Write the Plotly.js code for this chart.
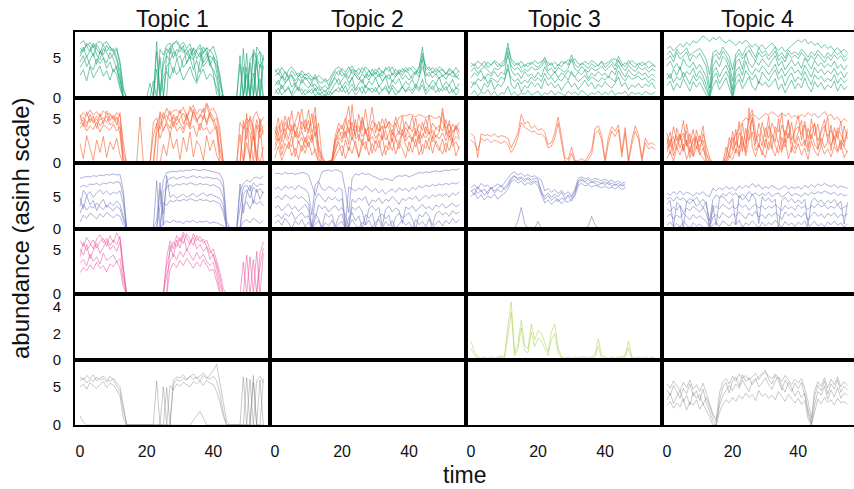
<!DOCTYPE html>
<html>
<head>
<meta charset="utf-8">
<script src="https://cdn.plot.ly/plotly-3.0.1.min.js"></script>
<style>html,body{margin:0;padding:0;background:#fff;}#chart{width:854px;height:489px;}</style>
</head>
<body>
<div id="chart"></div>
<script>
const time = [0,1,2,3,4,5,6,7,8,9,10,11,12,13,14,15,16,17,18,19,20,21,22,23,24,25,26,27,28,29,30,31,32,33,34,35,36,37,38,39,40,41,42,43,44,45,46,47,48,49,50,51,52,53,54,55];
const topics = ['Topic 1','Topic 2','Topic 3','Topic 4'];
const xTicks = [0,20,40];
const yTicks = [[0,5],[0,5],[0,5],[0,5],[0,2,4],[0,5]];

const green_t1 = [
 [5.2,6.1,6.5,5.8,6.9,6.2,5.5,6.8,7.1,6.4, 5.9,6.3,4.1,0.8,0,0,0,0,0,0, 0,0,0,5.8,0.6,4.9,6.2,5.5,6.8,7.0, 6.4,5.7,6.1,5.2,4.8,5.9,6.3,4.4,5.1,6.0, 5.4,3.2,0.5,0,0,0,0,0,4.2,0, 5.6,0.3,6.1,5.2,3.8,5.0],
 [4.5,5.3,3.9,4.8,5.6,4.2,5.9,5.1,4.4,5.7, 4.9,3.6,2.2,0,0,0,0,0,0,0, 0,0,2.1,0,0,4.1,5.3,4.6,5.8,5.1, 3.4,4.9,5.5,6.2,5.0,2.1,4.7,5.8,6.3,4.1, 5.2,4.5,2.8,0,0,0,0,0,0,3.9, 0,4.8,5.5,0,4.2,3.6],
 [6.3,5.8,6.9,6.4,5.2,6.7,6.0,5.4,6.6,5.9, 6.2,5.1,3.3,0,0,0,0,0,0,0, 0,0,0,0,6.1,5.4,6.6,6.9,6.1,5.3, 6.5,6.0,5.6,4.9,6.3,5.8,5.1,6.4,5.7,4.6, 3.1,0.4,0,0,0,0,0,0,0,0, 0,4.4,0,5.1,5.8,4.7],
 [3.8,4.6,5.2,4.1,3.5,4.9,4.3,5.0,3.7,4.5, 3.2,4.0,1.5,0,0,0,0,0,0,0, 0,0,0,3.6,0,0,3.9,4.5,3.1,4.8, 5.3,3.8,4.4,5.1,3.5,4.7,3.2,4.9,5.6,4.0, 3.6,2.4,0,0,0,0,0,0,0,0, 3.8,0,0,4.6,0,4.1],
 [5.6,6.4,5.1,6.0,6.6,5.4,4.8,6.2,5.7,4.9, 5.5,6.1,4.6,1.2,0,0,0,0,0,0, 0,1.8,0,0,5.1,0,5.6,6.3,5.0,6.1, 5.8,6.6,4.3,5.5,6.2,4.9,5.7,3.9,4.5,5.3, 4.8,4.0,1.6,0,0,0,0,0,5.3,0, 0,0,5.7,4.9,0,5.4],
 [2.8,3.5,2.1,3.9,2.5,3.2,4.0,2.7,3.4,2.2, 3.6,2.9,1.1,0,0,0,0,0,0,0, 0,0,0,0,0,2.6,3.3,2.4,3.8,2.9, 3.5,2.2,3.1,3.9,2.6,1.8,2.9,3.6,2.3,3.0, 2.5,1.2,0,0,0,0,0,0,0,0, 2.9,0,3.1,0,2.4,0],
 [6.8,7.2,6.5,7.0,6.3,6.9,7.1,6.6,5.9,6.4, 5.7,4.8,2.5,0,0,0,0,0,0,0, 0,0,0,7.1,0,0,0,6.4,6.9,7.2, 6.6,7.0,6.2,6.8,5.4,6.1,6.7,5.6,6.3,5.9, 6.5,5.1,2.2,0,0,0,0,0,0,6.2, 0,0,0,6.4,5.7,0]
];
const green_t2 = [
 [2.8,3.1,2.4,3.3,2.6,2.9,2.1,2.7,3.0,2.3, 2.5,2.0,2.6,1.6,1.2,1.5,1.0,1.8,2.9,3.4, 2.7,3.1,2.4,3.6,2.8,2.2,3.0,2.5,3.5,2.7, 3.2,2.6,3.4,2.9,2.3,3.1,2.6,3.3,2.8,3.5, 3.0,2.4,3.2,3.7,6.4,3.1,2.7,3.3,2.9,3.4, 2.6,3.1,2.8,3.3,2.5,3.0],
 [1.5,2.2,1.1,1.8,2.5,1.3,1.9,1.0,2.3,1.6, 1.2,1.9,0.8,1.4,0.6,0.9,0.3,1.1,1.7,2.4, 1.3,2.0,1.5,2.6,1.0,1.8,2.3,1.2,2.1,1.6, 2.5,1.4,1.9,2.7,1.1,2.2,1.7,2.4,1.3,2.0, 1.6,2.3,1.2,2.5,4.8,1.9,1.4,2.2,1.7,2.6, 1.3,2.0,1.5,2.3,1.1,1.8],
 [0.5,1.2,0.3,0.9,1.4,0.2,0.8,1.3,0.4,1.0, 0.6,1.1,0.2,0.7,0.1,0.5,0,0.4,0.9,1.3, 0.7,1.5,0.4,1.1,0.3,0.8,1.4,0.5,1.2,0.6, 1.3,0.4,1.0,1.5,0.6,1.2,0.3,0.9,1.4,0.7, 1.1,0.5,1.3,0.8,1.6,0.4,1.0,1.5,0.6,1.2, 0.8,1.4,0.5,1.1,0.3,0.9],
 [3.6,2.9,3.8,3.2,2.5,3.4,2.8,3.1,2.4,3.0, 2.7,2.2,2.9,2.0,1.8,2.4,1.5,2.6,3.3,2.8, 3.7,3.2,3.9,3.0,3.5,2.9,3.8,3.3,2.6,3.6, 2.9,3.8,3.1,3.5,3.9,2.8,3.6,3.0,3.7,3.2, 3.8,3.4,2.9,3.9,5.6,3.5,3.9,3.1,3.7,3.3, 3.6,2.9,3.5,3.1,3.8,3.2],
 [2.1,1.6,2.7,1.9,2.3,2.8,1.5,2.4,1.8,2.6, 2.0,1.4,1.7,0.9,1.1,0.7,1.3,2.0,2.5,1.6, 2.2,2.8,1.9,2.4,3.1,2.6,1.8,2.9,2.2,3.0, 2.4,3.0,2.1,2.6,2.9,2.0,2.7,3.1,2.3,2.8, 2.2,2.9,3.3,2.6,3.9,2.7,3.2,2.5,3.0,2.4, 2.9,2.3,3.1,2.6,2.8,2.2],
 [1.0,0.4,1.6,0.7,1.2,0.5,1.5,0.8,1.1,0.3, 0.9,0.5,1.2,0.3,0.6,0.2,0.8,0.5,1.0,0.7, 1.4,0.6,1.1,1.7,0.8,1.3,0.5,1.6,0.9,1.2, 0.7,1.5,0.9,1.2,0.4,1.6,1.0,0.6,1.3,0.8, 1.4,0.9,1.7,1.1,2.3,0.8,1.5,1.0,1.8,0.7, 1.3,0.9,1.6,0.6,1.2,1.0],
 [3.2,3.7,2.9,2.2,3.5,3.9,3.3,2.6,3.4,2.8, 3.1,2.6,2.3,2.8,2.4,2.0,2.2,3.0,3.6,3.9, 3.3,2.7,3.4,4.0,3.2,3.7,3.1,3.9,3.4,2.9, 3.6,3.2,2.7,3.8,3.3,3.9,2.9,3.5,3.2,3.8, 3.4,3.9,3.5,3.1,5.2,4.0,3.4,3.8,3.2,3.9, 3.5,3.0,3.7,3.3,2.9,3.4]
];
const green_t3 = [
 [3.9,4.3,3.6,4.1,4.6,3.8,4.2,4.5,3.9,4.4, 4.8,6.9,4.6,4.0,4.4,3.7,4.2,3.9,4.5,4.1, 3.8,4.3,5.1,4.0,4.4,3.6,4.2,3.9,4.6,4.1, 5.4,4.2,3.8,4.4,4.0,3.7,4.3,3.9,4.1,4.5, 3.8,4.2,4.6,4.0,5.2,4.3,3.9,4.7,4.1,3.8, 4.4,4.0,4.3,3.7,4.1,3.9],
 [2.5,3.1,2.8,3.4,2.3,3.0,2.7,3.3,2.6,3.2, 2.9,5.8,3.5,2.8,3.1,2.4,3.3,2.7,3.0,2.5, 3.2,2.6,3.9,3.0,2.7,3.3,2.5,3.1,2.8,3.4, 3.0,2.6,3.2,2.9,3.5,2.4,3.1,2.7,3.3,2.8, 3.1,2.5,3.4,2.9,4.1,3.2,2.6,3.5,3.0,2.7, 3.3,2.8,3.1,2.5,3.0,2.6],
 [1.2,2.0,1.5,0.8,1.8,1.3,2.2,1.0,1.7,1.4, 2.1,4.2,1.6,1.1,1.9,0.7,1.5,1.2,2.0,1.4, 1.8,1.1,2.4,1.5,1.9,1.2,1.7,0.9,1.6,2.1, 1.3,1.8,1.0,1.6,2.2,1.4,1.9,1.1,1.7,1.3, 2.0,1.5,1.2,1.8,2.6,1.4,1.9,1.0,1.6,1.3, 1.8,1.2,1.7,1.4,1.9,1.1],
 [0.4,0.9,0.2,0.7,0.5,1.0,0.3,0.8,0.1,0.6, 0.5,1.4,0.3,0.7,0.2,0.6,0.4,0.9,0.3,0.5, 0.8,0.2,0.6,0.4,0.9,0.3,0.7,0.5,0.2,0.8, 0.4,0.7,0.3,0.9,0.5,0.2,0.6,0.4,0.8,0.3, 0.7,0.4,0.9,0.3,0.6,0.5,0.8,0.2,0.7,0.4, 0.6,0.3,0.8,0.5,0.4,0.7],
 [3.3,3.8,3.1,3.6,3.9,3.4,3.0,3.7,3.5,3.9, 4.1,5.3,4.0,3.5,3.8,3.2,3.6,3.3,3.9,3.5, 3.6,3.9,4.6,3.4,3.7,3.1,3.8,3.5,3.2,3.7, 4.9,3.6,3.3,3.9,3.5,3.2,3.8,3.4,3.6,4.0, 3.4,3.8,4.2,3.5,4.7,3.9,3.4,4.1,3.6,3.3, 3.9,3.5,3.8,3.2,3.6,3.4],
 [2.0,1.6,2.4,2.1,2.7,1.8,2.5,2.2,1.9,2.6, 2.3,3.6,2.5,2.0,2.4,1.7,2.2,1.9,2.6,2.1, 2.5,2.0,3.1,2.3,2.6,1.9,2.4,2.1,2.7,2.2, 3.3,2.5,2.0,2.4,2.8,2.1,2.6,2.3,2.0,2.5, 2.2,2.7,2.4,2.0,3.4,2.6,2.1,2.8,2.3,2.5, 2.7,2.2,2.5,1.9,2.4,2.1],
 [4.4,4.0,4.6,4.2,3.9,4.5,4.1,4.7,4.3,4.0, 4.5,6.3,4.9,4.4,4.1,4.6,3.9,4.4,4.2,4.7, 4.3,4.6,4.8,4.4,4.1,4.5,4.0,4.6,4.3,4.8, 4.5,4.9,4.3,4.1,4.6,4.2,4.7,4.4,4.0,4.6, 4.2,4.5,4.8,4.9,4.6,4.0,4.4,4.2,4.7,4.3, 4.1,4.5,4.2,4.6,4.3,4.0]
];
const green_t4 = [
 [6.2,6.5,5.9,6.3,6.8,6.4,7.0,6.6,7.2,6.9, 7.4,7.8,7.5,7.1,7.6,7.3,7.7,7.2,6.9,7.3, 7.0,6.6,7.1,6.8,7.3,6.9,6.4,6.8,6.3,6.7, 6.1,6.5,6.9,6.4,6.0,6.4,5.8,6.2,6.6,6.9, 7.3,7.0,7.4,6.8,7.1,6.6,6.9,6.3,6.7,6.2, 6.5,5.9,6.3,5.8,6.1,5.7],
 [4.8,5.3,4.5,5.7,4.9,5.2,5.8,4.6,5.4,5.0, 5.6,4.7,3.9,1.2,5.1,5.5,4.8,5.9,5.3,4.4, 2.1,5.0,5.6,4.9,5.4,6.0,5.2,4.6,5.7,5.1, 5.5,4.8,5.3,5.9,4.7,5.2,4.5,5.6,5.0,5.4, 4.9,5.7,5.2,4.6,5.3,4.8,5.5,5.0,4.4,5.2, 4.7,5.4,4.9,5.3,4.6,5.0],
 [3.1,2.4,3.6,2.8,3.9,2.5,3.3,2.9,3.7,2.6, 3.4,2.7,1.5,0,3.2,3.8,2.6,3.5,4.1,3.0, 0.4,3.3,3.9,2.8,4.6,3.4,2.9,3.7,3.2,4.0, 3.6,2.9,3.5,4.2,3.0,3.7,2.7,3.4,3.9,3.1, 3.5,2.8,4.1,3.3,2.6,3.8,3.1,3.6,2.9,3.4, 3.0,3.7,2.8,3.3,2.5,3.2],
 [1.5,2.1,0.9,1.8,1.2,2.4,1.6,0.8,2.0,1.3, 1.9,1.1,0.3,0,1.4,2.2,1.0,1.7,2.5,1.2, 0,1.6,2.3,1.1,1.9,2.6,1.4,0.9,2.1,1.5, 2.0,1.3,1.8,2.4,1.0,1.7,0.6,1.5,2.2,1.1, 1.8,1.2,2.5,1.4,0.7,2.0,1.3,1.9,1.0,1.6, 1.2,2.1,0.8,1.7,1.0,1.4],
 [4.0,4.6,3.7,4.3,3.5,4.9,4.1,3.8,4.5,3.6, 4.2,3.4,2.6,0.5,4.0,4.7,3.9,5.2,4.8,3.7, 1.0,4.4,4.9,3.6,5.6,4.3,3.8,4.6,4.1,4.9, 4.4,3.9,4.7,5.3,4.0,4.6,3.5,4.2,4.8,4.0, 4.5,3.7,5.0,4.3,3.6,4.7,4.0,4.4,3.8,4.3, 3.9,4.6,3.7,4.2,3.5,4.1],
 [5.4,5.9,5.1,6.1,5.5,5.8,6.3,5.3,5.7,6.0, 6.2,5.6,4.8,2.9,5.7,6.0,5.4,6.4,5.8,5.2, 3.5,5.5,6.1,5.3,6.2,6.6,5.8,5.1,6.3,5.6, 5.9,5.3,5.8,6.4,5.2,5.7,5.0,6.0,5.5,5.8, 5.4,6.1,5.7,5.1,5.8,5.3,6.0,5.5,5.0,5.7, 5.2,5.9,5.4,5.8,5.1,5.5],
 [2.3,3.0,1.9,2.6,2.2,3.2,2.5,1.7,2.8,2.1, 2.7,2.0,0.9,0,2.5,3.1,1.8,2.6,3.3,2.4, 0,2.5,3.0,1.9,3.4,2.8,2.2,2.9,1.7,3.2, 2.7,2.1,2.9,3.5,2.3,2.8,1.5,2.6,3.1,2.0, 2.6,2.2,3.3,2.5,1.6,2.9,2.3,2.7,2.0,2.4, 2.1,2.9,1.8,2.5,1.9,2.3]
];
const orange_t1 = [
 [4.8,5.2,4.5,5.0,4.7,5.3,4.9,5.1,4.6,5.4, 4.9,5.2,4.4,0.5,0,0,0,0,0,0, 0,0,4.6,5.1,3.8,4.9,5.4,4.7,5.2,4.3, 5.0,5.6,4.8,6.4,5.3,4.6,5.5,4.9,6.6,5.2, 4.7,5.1,2.9,0,0,0,0,0,4.6,3.9, 5.1,4.4,2.6,4.9,3.5,4.2],
 [5.5,4.1,5.8,4.6,5.3,3.9,5.6,4.4,5.9,4.8, 5.4,4.3,5.7,1.2,0,0,0,0,0,0, 0,0,0,4.2,5.5,3.6,4.8,5.9,4.1,5.3, 4.5,3.8,5.6,4.3,6.1,5.0,3.7,5.4,4.6,5.8, 5.1,4.0,0.8,0,0,0,0,0,0,4.8, 2.7,5.3,4.1,0,5.0,3.2],
 [3.9,4.5,3.6,4.2,3.8,4.6,3.5,4.3,4.0,3.7, 4.4,3.6,4.1,0,0,0,0,0,0,0, 0,0,3.1,4.5,2.8,3.9,4.4,3.2,4.7,3.6, 4.1,3.4,4.6,3.8,4.2,3.0,4.5,3.7,4.0,3.3, 3.8,4.2,1.6,0,0,0,0,0,3.2,0, 4.0,3.4,0,4.3,2.8,3.7],
 [5.1,5.7,5.3,6.0,5.4,5.8,5.2,5.9,5.5,5.6, 5.0,5.7,5.3,2.3,0,0,0,0,5.2,0, 0,0,0,0,5.8,5.0,6.2,5.4,5.9,6.0, 5.6,6.3,5.2,5.8,6.5,5.5,6.1,5.7,6.8,5.9, 6.2,5.4,3.8,0,0,0,0,0,0,0, 5.6,0,5.2,5.8,4.6,0],
 [2.2,0.5,3.1,1.8,0.3,2.6,1.2,3.0,0.6,2.4, 1.5,2.8,0.9,0,0,0,0,0,0,0, 0,0,0,0,0,2.1,0.8,3.3,1.6,2.7, 0.4,2.9,1.3,3.5,0.7,2.5,1.9,0.3,3.1,1.4, 2.6,0.9,0,0,0,0,0,0,0,0, 2.3,0.6,3.0,1.1,0,1.8],
 [4.4,4.9,4.1,5.5,4.5,5.0,4.2,4.7,5.3,4.3, 4.6,5.1,3.2,0,0,0,0,0,0,0, 0,0,0,3.4,4.2,5.7,4.6,3.9,5.5,4.8, 6.0,4.4,5.3,4.0,5.8,4.9,5.2,6.2,4.3,5.6, 4.6,3.5,0,0,0,0,0,0,0,3.9, 4.5,5.0,3.7,0,4.4,5.2]
];
const orange_t2 = [
 [3.2,5.1,2.4,4.6,3.8,5.9,2.9,4.3,6.1,3.5, 4.8,2.6,5.4,1.1,0.2,0,0.3,0.1,2.2,3.9, 2.7,4.4,6.4,3.1,4.9,2.5,5.2,3.6,4.1,6.3, 3.4,4.7,2.8,5.0,3.9,2.4,4.5,3.2,5.3,2.9, 4.2,3.5,5.1,2.7,4.6,3.3,5.4,2.8,4.0,3.6, 5.7,3.1,4.8,2.6,4.3,3.4],
 [1.5,2.8,0.9,2.2,1.6,3.1,0.7,2.5,1.3,2.9, 1.8,3.2,1.0,0.3,0,0,0,0.2,1.2,2.4, 0.8,2.6,1.4,3.0,1.9,0.6,2.7,1.5,3.3,1.1, 2.5,1.7,3.1,0.9,2.3,1.4,2.8,1.6,3.4,2.0, 1.3,2.9,1.8,3.2,1.0,2.6,1.5,3.0,2.1,1.4, 2.7,1.2,3.1,1.9,2.4,1.6],
 [4.1,3.3,4.8,2.9,5.2,3.6,4.4,3.0,4.7,3.8, 6.0,3.5,4.2,2.0,0.6,0.1,0,0.4,3.1,4.5, 3.8,5.1,3.4,4.6,3.0,5.5,3.7,6.1,3.3,4.8, 4.2,3.6,5.0,3.9,4.6,3.2,5.2,4.0,3.5,4.7, 3.8,5.3,3.1,4.4,3.7,5.0,3.4,4.5,3.9,4.2, 3.6,4.9,3.3,4.4,3.8,4.6],
 [2.6,4.2,3.5,5.3,4.0,3.2,4.6,5.8,3.7,4.9, 3.4,5.6,3.0,4.5,0.8,0,0,0.5,2.8,3.6, 4.3,3.1,4.9,3.7,4.2,3.5,4.8,3.3,4.0,3.8, 4.5,3.6,4.2,3.9,4.7,4.1,4.4,5.1,5.4,5.3, 5.5,5.4,5.2,5.5,5.3,5.1,5.4,5.2,5.0,5.3, 4.6,3.9,4.4,3.5,4.1,3.7],
 [0.6,1.9,0.3,1.4,2.3,0.8,1.7,0.4,2.0,1.1, 2.4,0.9,1.6,0,0,0,0,0,0.7,1.5, 2.0,0.5,1.8,1.1,2.5,0.7,1.9,2.4,0.9,2.2, 1.3,2.6,0.8,2.0,1.5,2.8,1.0,2.3,1.6,0.6, 2.4,1.2,2.7,0.9,2.1,1.6,2.9,1.1,2.5,1.8, 1.0,2.3,1.4,2.7,0.8,1.9],
 [3.7,2.5,3.1,3.9,2.7,4.3,3.4,2.8,3.6,2.3, 3.9,4.4,6.3,1.6,0.4,0,0.1,0.3,2.5,3.1, 3.5,2.8,4.0,2.6,3.7,4.2,3.0,3.6,2.4,3.9, 2.8,3.5,4.1,2.6,3.3,3.8,2.9,3.6,3.1,4.0, 3.4,2.7,3.9,3.5,2.8,4.1,3.2,3.7,2.9,3.5, 6.2,3.8,2.9,3.4,3.9,2.8],
 [2.0,3.4,1.6,3.0,2.4,1.8,3.6,2.2,2.9,1.7, 3.1,2.3,3.5,0.6,0,0,0,0.1,1.6,2.9, 2.4,3.6,2.1,6.6,2.7,3.2,2.0,3.9,2.5,3.0, 2.2,3.3,2.6,3.7,2.1,3.4,2.7,2.3,3.8,2.5, 3.1,2.4,3.6,2.2,3.3,2.8,3.5,2.4,3.2,2.7, 3.4,2.5,3.7,2.3,3.0,2.6]
];
const orange_t3 = [
 [3.3,3.0,0.6,3.3,3.1,3.2,3.0,3.3,2.9,3.1, 3.0,2.8,1.7,2.5,3.4,5.5,4.4,4.7,3.9,4.2, 3.7,3.9,3.5,2.1,2.3,3.4,5.2,3.0,0.6,0.4, 1.8,0.3,0.2,0.5,0.2,0.8,1.5,3.9,4.2,3.1, 0.4,2.9,4.1,3.6,4.3,1.2,4.0,0.3,2.7,4.2, 3.2,0.5,2.8,2.1,2.3,2.0],
 [2.6,2.2,1.4,2.8,2.5,2.7,2.3,2.6,2.4,2.2, 2.5,2.1,1.2,1.8,2.9,4.6,4.0,3.8,3.5,3.6, 3.2,3.3,2.9,1.7,1.9,2.8,4.5,2.4,0.2,0.1, 1.1,0,0,0.2,0,0.4,1.0,3.3,3.7,2.6, 0.1,2.2,3.6,3.0,3.8,0.7,3.4,0.1,2.1,3.6, 2.7,0.2,2.3,1.6,1.8,1.5]
];
const orange_t4 = [
 [2.1,3.5,1.4,3.9,2.6,4.8,1.9,3.3,0.8,3.7, 2.4,4.2,1.1,0.3,0,0,0,0,0.6,2.9, 1.5,3.8,0.7,4.5,2.2,5.1,6.0,3.4,1.8,4.6, 2.9,5.3,1.6,4.1,3.5,5.6,2.3,4.8,1.2,3.9, 5.4,2.6,4.3,1.7,5.0,3.1,4.4,2.0,3.6,5.2, 1.4,4.0,2.8,4.7,1.9,3.5],
 [3.4,1.8,4.1,2.5,3.2,1.3,4.4,2.2,3.8,1.6, 3.1,1.9,0.4,0,0,0,0,0,1.8,0.7, 3.6,2.0,4.7,1.3,3.9,2.6,5.2,2.1,4.5,3.0, 1.7,4.2,3.3,2.4,5.0,1.5,3.7,2.8,4.6,2.2, 3.5,4.8,1.9,3.9,2.7,4.5,1.6,3.8,4.9,2.4, 4.3,2.0,3.6,1.5,4.2,2.7],
 [1.2,2.3,3.0,1.6,2.7,3.4,2.1,1.5,2.8,2.4, 1.9,2.6,0.9,0.2,0,0,0,0,0,1.4, 2.5,3.2,4.0,4.6,5.1,4.8,5.5,5.3,4.9,5.2, 5.6,5.4,5.8,5.5,5.2,5.7,5.3,5.6,5.1,5.4, 5.0,5.5,5.2,5.7,5.3,5.6,5.1,5.4,5.8,5.3, 5.5,4.9,5.2,4.6,5.0,4.7],
 [0.5,1.3,0.2,1.7,0.9,2.1,0.4,1.5,0.7,1.9, 1.1,0.6,0,0,0,0,0,0,0.3,0.8, 0.4,1.6,0.9,2.3,1.2,6.2,1.8,0.7,2.0,1.3, 0.6,2.4,1.5,0.8,2.1,1.2,2.7,0.5,1.8,1.1, 2.2,0.9,1.7,0.4,2.5,1.4,0.8,2.0,1.0,1.6, 0.7,1.9,1.2,2.3,0.6,1.4],
 [2.8,1.0,2.4,3.1,1.7,2.9,3.6,1.2,2.5,3.0, 1.4,3.3,2.0,0.6,0,0,0,0,0.9,2.2, 2.9,1.1,3.4,2.7,1.6,3.8,4.9,2.5,3.3,1.9, 4.0,2.8,4.5,3.6,2.2,4.3,3.1,4.9,2.6,3.7, 4.1,3.2,4.7,2.8,3.9,4.4,2.5,3.5,4.2,3.0, 3.7,2.6,4.0,3.2,2.4,3.8],
 [1.6,2.7,0.8,2.0,3.3,1.4,2.6,0.6,1.9,2.8, 0.9,1.7,0.3,0,0,0,0,0,0,0.5, 1.2,2.4,1.7,3.0,0.8,2.6,3.5,1.4,2.2,0.9, 2.7,1.5,3.2,2.0,1.1,2.9,1.8,3.4,2.3,1.6, 3.0,1.9,2.6,1.3,3.3,2.1,1.5,2.8,1.7,2.4, 2.0,3.1,1.4,2.6,1.8,1.2]
];
const blue_t1 = [
 [7.9,8.0,8.2,8.1,8.3,8.2,8.4,8.3,8.5,8.4, 8.6,8.4,8.5,6.0,0,0,0,0,0,0, 0,0,0,0,3.5,7.6,8.8,8.9,9.0,8.9, 9.1,9.0,9.2,9.1,9.3,9.2,9.1,9.3,9.2,9.0, 8.9,8.8,8.6,7.5,1.2,0,0,0,5.9,7.1, 7.6,7.3,7.9,8.1,7.8,8.3],
 [6.5,6.8,6.6,7.0,6.9,7.1,6.8,7.2,7.0,7.3, 7.1,7.4,7.2,5.1,0,0,0,0,0,0, 0,0,0,0,6.1,2.3,7.4,7.9,8.1,7.8, 8.0,8.2,7.9,8.1,8.3,8.0,8.2,7.9,8.1,8.0, 7.8,7.9,7.6,6.4,0.5,0,0,0,3.2,6.5, 6.8,5.9,7.2,6.6,7.0,6.9],
 [3.5,6.0,5.2,5.8,4.9,5.6,6.1,5.4,5.9,5.3, 5.7,5.5,5.9,3.8,0,0,0,0,0,0, 0,0,0,7.5,0,5.9,6.4,6.9,6.6,7.0, 6.8,7.1,6.9,7.2,7.0,6.8,7.1,6.9,7.0,6.7, 6.9,6.6,6.3,4.9,0,0,0,0,0,5.4, 6.1,4.8,6.5,5.7,6.3,5.5],
 [4.8,3.1,5.2,3.7,4.4,2.8,3.9,4.6,3.3,4.1, 3.6,4.3,3.8,2.1,0,0,0,0,0,0, 0,0,0,1.3,7.2,0.5,8.3,4.9,5.3,4.8, 5.1,5.4,4.9,5.2,5.5,5.0,5.3,5.6,5.1,5.4, 5.2,5.0,4.7,3.6,0,0,0,0,7.0,2.4, 5.5,6.8,3.9,6.2,4.6,5.8],
 [2.4,3.8,2.9,3.5,3.2,4.0,3.4,3.0,3.7,3.3, 2.8,3.5,3.1,1.4,0,0,0,0,0,0, 0,0,0,0,0,4.1,3.6,4.4,4.2,4.5, 4.3,4.6,4.4,4.7,4.5,4.3,4.6,4.4,4.5,4.2, 4.4,4.1,3.9,2.5,0,0,0,0,0,3.7, 4.2,3.1,4.5,3.8,4.3,3.6],
 [1.0,2.1,1.6,2.4,2.0,1.5,2.3,1.8,2.5,2.1, 1.7,2.2,1.9,0.6,0,0,0,0,0,0, 0,0,0,0,0,0.8,1.2,0.9,1.3,1.0, 1.1,0.8,1.2,1.0,1.3,0.9,1.1,1.0,1.2,0.8, 1.0,0.9,0.7,0.4,0,0,0,0,0,1.1, 1.4,0.9,1.6,1.2,0.8,1.3]
];
const blue_t2 = [
 [8.6,8.7,8.5,8.8,8.6,8.7,8.5,8.6,8.8,8.7, 8.4,6.8,5.2,7.3,8.9,9.1,9.2,9.0,9.3,9.1, 8.8,6.0,2.5,7.9,8.6,8.4,8.7,8.5,8.6,8.3, 8.0,7.8,7.6,7.9,7.7,7.5,8.1,8.3,8.2,8.4, 8.1,8.3,8.6,8.8,8.7,8.9,8.8,9.0,9.1,8.9, 9.0,9.2,9.1,9.3,9.2,9.4],
 [6.2,6.5,6.0,6.7,6.3,6.6,6.1,6.8,6.4,6.2, 5.5,2.1,6.9,7.4,6.2,6.0,6.6,6.3,5.8,6.4, 6.1,0.4,6.5,6.2,5.9,6.4,6.0,6.7,6.2,5.8, 6.3,5.6,6.1,5.4,5.9,6.2,5.7,6.4,6.0,6.3, 5.8,6.5,6.1,6.7,6.4,6.8,6.6,6.9,6.7,7.0, 6.8,7.1,6.9,7.2,7.0,7.3],
 [4.8,5.1,4.5,5.3,4.9,4.6,5.2,4.7,5.0,4.4, 3.9,0.3,4.6,5.5,4.8,4.2,5.0,4.5,4.9,4.3, 4.7,0,0.5,4.6,4.1,4.8,4.4,5.0,3.6,4.5, 4.2,4.8,3.9,4.6,4.3,5.0,4.5,3.8,4.7,4.4, 4.9,4.6,5.1,4.3,4.8,5.2,4.7,5.3,5.0,5.4, 5.1,5.5,4.9,5.6,5.2,5.8],
 [3.2,3.6,2.8,3.4,3.9,3.0,3.5,2.7,3.3,3.8, 2.9,0,1.5,3.7,3.1,3.5,2.6,3.2,3.6,2.8, 3.3,2.1,0,3.4,2.9,3.5,2.7,0.6,3.1,3.6, 2.8,3.3,0.4,3.0,3.5,2.6,3.2,2.9,0.8,3.4, 3.0,3.6,2.7,3.3,3.8,3.1,3.5,2.9,3.7,3.4, 3.9,3.2,3.6,4.0,3.4,3.8],
 [1.8,2.2,1.5,2.4,1.9,2.6,1.4,2.1,2.5,1.7, 2.0,0,2.3,1.6,0,2.4,1.8,2.2,0.3,1.9, 2.3,0,1.7,2.5,1.2,2.0,0,2.2,1.6,2.4, 0.2,1.9,2.3,1.5,2.1,0,1.8,2.4,1.7,2.0, 2.5,1.4,0,2.2,1.8,2.6,1.9,0.5,2.3,2.7, 2.1,2.5,1.9,2.8,2.3,2.6],
 [0.8,1.3,0.5,1.6,0.9,0,1.2,0.6,1.4,0.3, 1.0,0,0.7,1.2,0,0.9,0.4,1.3,0,0.8, 1.1,0,0.3,1.4,0.6,0,1.0,0.5,1.3,0.2, 0.9,1.5,0,1.1,0.4,1.2,0,0.7,1.3,0.5, 1.0,0,1.4,0.6,1.1,0.3,1.5,0,0.8,1.2, 0.4,1.3,0.7,1.6,0.9,1.4]
];
const blue_t3 = [
 [6.4,6.9,6.2,7.1,6.6,6.8,6.3,6.7,7.0,6.5, 7.2,7.8,8.6,8.9,8.4,8.7,8.2,8.5,8.1,8.3, 8.0,7.6,5.9,6.3,5.7,6.1,5.5,6.0,5.3,5.8, 5.1,6.2,7.9,8.1,7.8,8.0,7.6,7.9,7.7,7.5, 7.8,7.4,7.6,7.2,7.5,7.1,7.3],
 [5.8,6.3,5.5,6.0,5.2,5.9,6.4,5.6,6.1,5.7, 6.5,7.0,8.0,8.3,7.6,7.9,7.4,7.8,7.2,7.5, 7.3,6.0,4.6,5.2,4.4,5.0,4.2,4.8,4.5,5.1, 4.3,5.5,7.2,7.6,7.3,7.0,7.4,7.1,6.8,7.2, 6.9,7.3,6.6,7.0,6.7,6.9,6.5],
 [5.0,5.6,4.7,5.3,4.5,5.1,4.8,5.4,4.6,5.2, 5.5,6.2,7.4,7.7,7.1,7.5,6.8,7.2,6.9,7.3, 6.7,5.2,4.0,4.5,3.8,4.3,4.6,3.9,4.4,4.1, 4.7,5.0,6.8,7.1,6.7,6.9,6.5,6.8,6.6,6.4, 6.7,6.3,6.5,6.2,6.6,6.1,6.4],
 [6.0,5.3,6.6,5.8,6.2,5.4,6.5,5.9,6.3,6.8, 6.1,6.7,7.7,8.2,7.9,8.1,7.7,8.0,7.6,7.9, 7.7,5.5,5.1,5.6,4.9,5.4,5.0,5.7,4.7,5.3, 4.9,5.8,7.5,7.8,7.4,7.7,7.2,7.5,7.3,7.0, 7.4,6.9,7.2,6.8,7.1,6.7,7.0],
 [0,0,0,0,0,0,0,0,0,0, 0,0,0,0,1.2,3.3,0.8,0,0,0, 1.1,0,0,0,0,0,0,0,0,0, 0,0,0,0,0,0.4,1.9,0.6,0,0, 0,0,0,0,0,0,0]
];
const blue_t4 = [
 [5.6,5.2,5.8,5.4,5.9,5.3,5.7,5.5,5.1,5.6, 5.4,5.8,5.2,5.0,6.3,5.9,6.4,6.1,6.6,6.2, 6.5,6.0,6.7,6.3,6.8,6.4,7.1,6.5,6.9,6.2, 6.6,6.3,6.8,6.5,6.1,6.4,6.7,6.2,6.5,6.3, 6.6,6.2,6.8,6.4,6.9,6.5,7.0,6.7,7.1,6.8, 6.6,6.9,6.4,6.7,6.5,6.3],
 [4.6,4.9,4.3,5.0,4.5,4.8,4.2,4.7,4.4,4.9, 4.1,4.6,3.8,1.2,4.5,5.3,4.9,5.5,5.1,5.7, 5.2,5.6,4.8,5.4,5.0,5.8,5.3,5.6,5.1,5.5, 5.2,5.7,5.0,5.4,5.6,4.9,5.3,5.8,5.1,5.5, 5.3,5.0,5.6,5.2,5.7,5.4,5.8,5.5,5.9,5.6, 5.4,5.7,5.2,5.5,5.1,5.3],
 [3.8,4.4,0.3,4.1,3.6,0,4.3,3.9,4.5,3.5, 4.0,3.3,4.2,0,3.7,0.5,4.8,5.1,4.4,3.9, 4.7,0.6,5.2,4.5,4.9,4.2,5.4,4.6,0.8,5.0, 4.3,4.8,4.1,4.6,0,4.4,4.9,4.2,4.7,4.0, 4.5,3.9,4.6,0.4,4.3,4.8,4.1,4.5,3.8,4.4, 4.0,4.6,3.7,4.3,0.7,4.1],
 [3.1,2.7,3.4,2.9,3.6,2.5,3.2,2.8,3.5,3.0, 2.6,3.3,2.4,0.5,2.9,3.6,3.1,3.8,3.4,3.0, 3.5,3.1,3.9,3.3,3.7,2.9,3.4,3.8,3.2,3.6, 3.0,3.5,3.2,3.8,3.3,2.8,3.6,3.1,3.4,2.9, 3.7,3.2,3.5,3.0,3.6,3.3,3.9,3.4,3.7,3.1, 3.5,3.2,3.8,3.0,3.4,3.6],
 [1.8,2.3,1.5,2.1,1.7,2.4,1.9,1.4,2.2,1.6, 2.0,1.5,1.1,0,1.8,2.2,1.6,2.5,2.0,1.7, 2.3,1.9,2.6,2.1,1.5,2.4,2.0,2.7,1.8,2.2, 1.6,2.3,1.9,2.5,2.1,1.4,2.6,2.0,2.4,1.7, 2.2,1.8,2.5,1.3,2.1,2.6,1.9,2.3,1.6,2.4, 2.0,2.5,1.7,2.2,1.9,2.3],
 [0.5,1.0,0.3,0.8,0.2,1.1,0.6,0,0.9,0.4, 0.7,0.2,0,0,0.5,1.0,0.3,1.2,0.8,0.4, 1.1,0.6,1.3,0.2,0.9,0.5,1.2,0.7,0,1.0, 0.4,0.9,0.6,1.3,0.8,0.2,1.1,0.5,0.9,0.3, 1.0,0.6,1.2,0,0.7,1.1,0.4,0.8,0.3,1.0, 0.6,1.2,0.5,0.9,0.2,0.7]
];
const pink_t1 = [
 [4.2,5.8,4.9,5.5,6.1,5.2,5.9,6.3,5.4,6.6, 5.8,6.9,6.2,3.1,0,0,0,0,0,0, 0,0,0,0,0,0,3.2,4.8,5.9,5.3, 6.4,5.7,6.8,6.1,5.5,6.6,5.9,6.2,5.4,4.6, 5.1,3.8,2.4,0.6,0,0,0,0,0,0, 4.4,0,0,0,3.1,5.2],
 [5.1,4.4,5.6,4.0,4.9,5.7,4.6,5.3,6.0,5.0, 5.5,4.8,5.9,2.2,0,0,0,0,0,0, 0,0,0,0,0,0,0,5.5,4.2,6.1, 5.2,6.7,4.9,5.8,6.4,5.1,5.6,4.8,5.3,3.9, 4.5,2.9,1.0,0,0,0,0,0,0,3.6, 0,0,3.9,0,0,4.6],
 [3.5,3.9,3.2,4.5,3.7,4.2,3.4,4.6,3.8,4.1, 4.4,3.6,4.0,1.4,0,0,0,0,0,0, 0,0,0,0,0,0,2.1,3.7,4.5,3.9, 4.8,4.2,5.1,4.4,3.8,4.7,4.0,4.5,3.7,3.2, 3.6,2.1,0.4,0,0,0,0,0,0,0, 0,4.2,0,0,0,0],
 [6.0,5.4,6.4,5.7,5.1,6.2,6.7,5.8,6.3,5.5, 6.1,5.6,6.5,2.8,0,0,0,0,0,0, 0,0,0,0,0,0,4.1,6.0,5.1,6.6, 5.9,7.0,6.3,5.6,6.8,6.0,6.5,5.7,6.1,5.0, 4.3,3.4,1.8,0,0,0,0,0,0,0, 0,0,0,4.8,0,0],
 [2.4,3.0,2.6,3.3,2.8,3.6,2.9,3.2,2.5,3.4, 3.1,3.7,2.9,0.8,0,0,0,0,0,0, 0,0,0,0,0,0,0,2.7,3.5,3.0, 3.8,3.2,4.0,3.5,2.9,3.6,3.1,3.9,3.3,2.6, 2.8,1.5,0,0,0,0,0,0,0,0, 0,0,0,0,4.5,5.9]
];
const lime_t3 = [
 [1.4,0.6,0.2,0.1,0.2,0.1,0.2,0.1,0.2,0.3, 0.2,2.6,4.4,0.5,1.2,3.0,1.1,0.8,2.7,1.5, 2.2,2.0,1.3,0.6,2.1,2.7,0.9,0.2,0.1,0.2, 0.1,0.2,0.1,0.2,0.2,0.1,0.2,0.4,1.6,0.3, 0.2,0.1,0.2,0.1,0.2,0.2,0.3,1.4,0.2,0.1, 0.2,0.1,0.2,0.1,0.2,0.1],
 [0.8,0.3,0.1,0,0.1,0,0.1,0,0.1,0.2, 0.1,1.8,3.6,0.3,0.8,2.4,0.7,0.5,2.1,1.0, 1.6,1.4,0.9,0.3,1.5,2.0,0.5,0.1,0,0.1, 0,0.1,0,0.1,0.1,0,0.1,0.2,1.0,0.1, 0.1,0,0.1,0,0.1,0.1,0.2,0.9,0.1,0, 0.1,0,0.1,0,0.1,0]
];
const gray_t1 = [
 [5.8,6.2,5.5,6.0,5.7,6.3,5.9,6.1,5.6,6.4, 5.9,5.2,4.4,2.0,0,0,0,0,0,0, 0,0,0,5.8,0,0,4.9,0,5.3,6.0, 5.7,6.2,5.9,6.4,6.0,6.3,5.8,6.5,6.1,6.6, 7.2,8.0,5.4,3.1,0.5,0,0,0,0,6.3, 0,6.0,0,5.8,6.4,5.5],
 [5.0,5.4,4.7,5.6,5.1,4.8,5.3,5.7,4.9,5.5, 5.2,4.6,3.8,0.9,0,0,0,0,0,0, 0,0,0,0,0,5.0,0,5.2,4.6,5.4, 5.1,5.6,5.3,5.0,5.7,5.4,5.8,5.2,5.9,5.5, 5.3,4.4,3.0,1.1,0,0,0,0,0,0, 6.2,0,5.6,0,0,6.1],
 [6.3,5.9,6.5,6.1,6.6,5.8,6.2,6.4,6.0,5.7, 6.1,5.5,5.0,2.6,0,0,0,0,0,0, 0,0,0,0,0,0,0,0,5.9,6.3, 6.2,6.6,6.0,6.4,6.7,6.1,6.5,6.8,6.3,6.0, 6.4,5.8,4.1,1.6,0,0,0,0,0,0, 0,0,6.5,0,5.9,0],
 [1.2,0.4,0,0,0,0,0,0,0,0, 0,0,0,0,0,0,0,0,0,0, 0,0,0,0,0,0,0,0,0,0, 0,0,0,0,0.6,1.2,1.8,0.9,0,0, 0,0,0,0,0,0,0,0,0,0, 0,0,0,0,0,0]
];
const gray_t4 = [
 [4.6,3.9,5.2,4.3,3.5,4.8,4.1,5.4,3.8,4.5, 3.2,4.7,2.9,1.8,0.6,0,3.1,4.9,5.6,4.2, 5.8,6.3,5.1,6.6,5.7,6.2,5.3,5.9,6.4,6.8, 7.2,6.0,5.4,6.5,5.8,4.6,5.9,5.1,4.4,5.5, 4.8,5.6,3.9,2.2,0.3,3.8,5.2,4.5,5.8,4.1, 5.4,4.7,5.9,4.3,5.1,4.6],
 [3.3,4.2,2.8,3.8,4.5,3.1,3.9,2.6,4.3,3.5, 4.0,2.7,3.6,2.3,1.2,0.4,2.5,3.8,4.6,5.2, 4.5,5.4,4.8,5.9,5.1,4.4,5.7,6.1,5.0,5.5, 6.2,5.3,4.7,5.8,6.3,5.0,4.3,5.6,4.9,3.8, 4.5,3.6,4.2,1.5,0,2.6,4.4,3.9,5.1,3.4, 4.6,3.7,4.9,3.5,4.2,3.9],
 [2.5,3.1,2.2,2.9,2.4,3.4,2.0,3.0,2.6,3.3, 2.1,2.8,1.9,1.1,0,0,1.6,2.7,3.3,2.9, 3.6,3.1,3.9,3.4,4.2,3.6,4.0,3.2,4.5,3.8, 4.1,3.5,3.9,3.3,4.4,3.7,3.1,4.0,3.4,2.9, 3.5,2.7,3.2,0.8,0,1.9,3.4,2.8,3.6,3.0, 3.3,2.6,3.5,2.9,3.1,2.7],
 [5.4,4.8,5.8,5.1,4.5,5.6,4.9,5.9,4.7,5.3, 4.4,5.5,4.1,3.0,1.5,0.8,4.2,5.6,6.1,5.4, 6.4,5.8,6.7,6.1,6.5,5.9,6.3,6.8,6.0,6.6, 6.9,6.4,6.1,6.7,6.2,5.7,6.5,5.9,5.3,6.0, 5.5,6.1,4.8,3.1,0.9,4.5,5.7,5.1,6.2,4.9, 6.0,5.3,6.3,5.0,5.7,5.2]
];

const rowColors = ['rgba(27,165,120,0.6)','rgba(250,95,50,0.6)','rgba(110,115,190,0.55)',
                   'rgba(236,70,150,0.5)','rgba(170,205,70,0.5)','rgba(120,120,120,0.4)'];
const yMax = [8.3,7.4,10.3,7.4,5.0,8.6];

const panels = [
  {r:0,c:0,s:green_t1},{r:0,c:1,s:green_t2},{r:0,c:2,s:green_t3},{r:0,c:3,s:green_t4},
  {r:1,c:0,s:orange_t1},{r:1,c:1,s:orange_t2},{r:1,c:2,s:orange_t3},{r:1,c:3,s:orange_t4},
  {r:2,c:0,s:blue_t1},{r:2,c:1,s:blue_t2},{r:2,c:2,s:blue_t3},{r:2,c:3,s:blue_t4},
  {r:3,c:0,s:pink_t1},{r:3,c:1,s:[]},{r:3,c:2,s:[]},{r:3,c:3,s:[]},
  {r:4,c:0,s:[]},{r:4,c:1,s:[]},{r:4,c:2,s:lime_t3},{r:4,c:3,s:[]},
  {r:5,c:0,s:gray_t1},{r:5,c:1,s:[]},{r:5,c:2,s:[]},{r:5,c:3,s:gray_t4}
];

const W = 854, H = 489, ML = 75, MR = 0, MT = 32, MB = 64;
const PW = W - ML - MR, PH = H - MT - MB;
const colEdges = [75,270,466,662,854].map(v => (v - ML) / PW);

const traces = [];
panels.forEach(p => {
  const k = p.r * 4 + p.c + 1;
  // an invisible placeholder keeps every panel's frame and axes drawn
  traces.push({x: [0], y: [0], type: 'scatter', mode: 'markers', xaxis: 'x' + k, yaxis: 'y' + k,
               marker: {opacity: 0, size: 1}, hoverinfo: 'skip', showlegend: false});
  p.s.forEach(vals => {
    traces.push({
      x: time.slice(0, vals.length), y: vals, type: 'scatter', mode: 'lines',
      xaxis: 'x' + k, yaxis: 'y' + k,
      line: {color: rowColors[p.r], width: 1}, hoverinfo: 'skip', showlegend: false
    });
  });
});

const layout = {
  width: W, height: H, margin: {l: ML, r: MR, t: MT, b: MB},
  paper_bgcolor: '#fff', plot_bgcolor: '#fff', showlegend: false,
  font: {family: 'Liberation Sans, Arial, sans-serif', color: '#111'},
  annotations: []
};

for (let r = 0; r < 6; r++) {
  for (let c = 0; c < 4; c++) {
    const k = r * 4 + c + 1;
    const sfx = k === 1 ? '' : String(k);
    layout['xaxis' + sfx] = {
      domain: [colEdges[c], colEdges[c + 1]], range: [-1.5, 57], anchor: 'y' + k,
      showline: true, mirror: true, linecolor: '#000', linewidth: 2,
      showgrid: false, zeroline: false, fixedrange: true,
      tickvals: xTicks, showticklabels: r === 5,
      ticks: r === 5 ? 'outside' : '', ticklen: 11, tickcolor: 'rgba(0,0,0,0)',
      tickfont: {size: 16, color: '#111'}
    };
    layout['yaxis' + sfx] = {
      domain: [1 - (r + 1) / 6, 1 - r / 6], range: [0, yMax[r]], anchor: 'x' + k,
      showline: true, mirror: true, linecolor: '#000', linewidth: 2,
      showgrid: false, zeroline: false, fixedrange: true,
      tickvals: yTicks[r], showticklabels: c === 0,
      ticks: c === 0 ? 'outside' : '', ticklen: 9, tickcolor: 'rgba(0,0,0,0)',
      tickfont: {size: 15, color: '#111'}
    };
  }
}

topics.forEach((t, c) => {
  layout.annotations.push({
    text: t, xref: 'paper', yref: 'paper',
    x: (colEdges[c] + colEdges[c + 1]) / 2, y: (H - MB - 19) / PH,
    xanchor: 'center', yanchor: 'middle', showarrow: false,
    font: {size: 23, color: '#111'}
  });
});
layout.annotations.push({
  text: 'abundance (asinh scale)', xref: 'paper', yref: 'paper',
  x: (20 - ML) / PW, y: (H - MB - 228) / PH, textangle: -90,
  xanchor: 'center', yanchor: 'middle', showarrow: false,
  font: {size: 24, color: '#111'}
});
layout.annotations.push({
  text: 'time', xref: 'paper', yref: 'paper',
  x: (464 - ML) / PW, y: (H - MB - 475) / PH,
  xanchor: 'center', yanchor: 'middle', showarrow: false,
  font: {size: 23, color: '#111'}
});

Plotly.newPlot('chart', traces, layout, {displayModeBar: false, staticPlot: true});
</script>
</body>
</html>
